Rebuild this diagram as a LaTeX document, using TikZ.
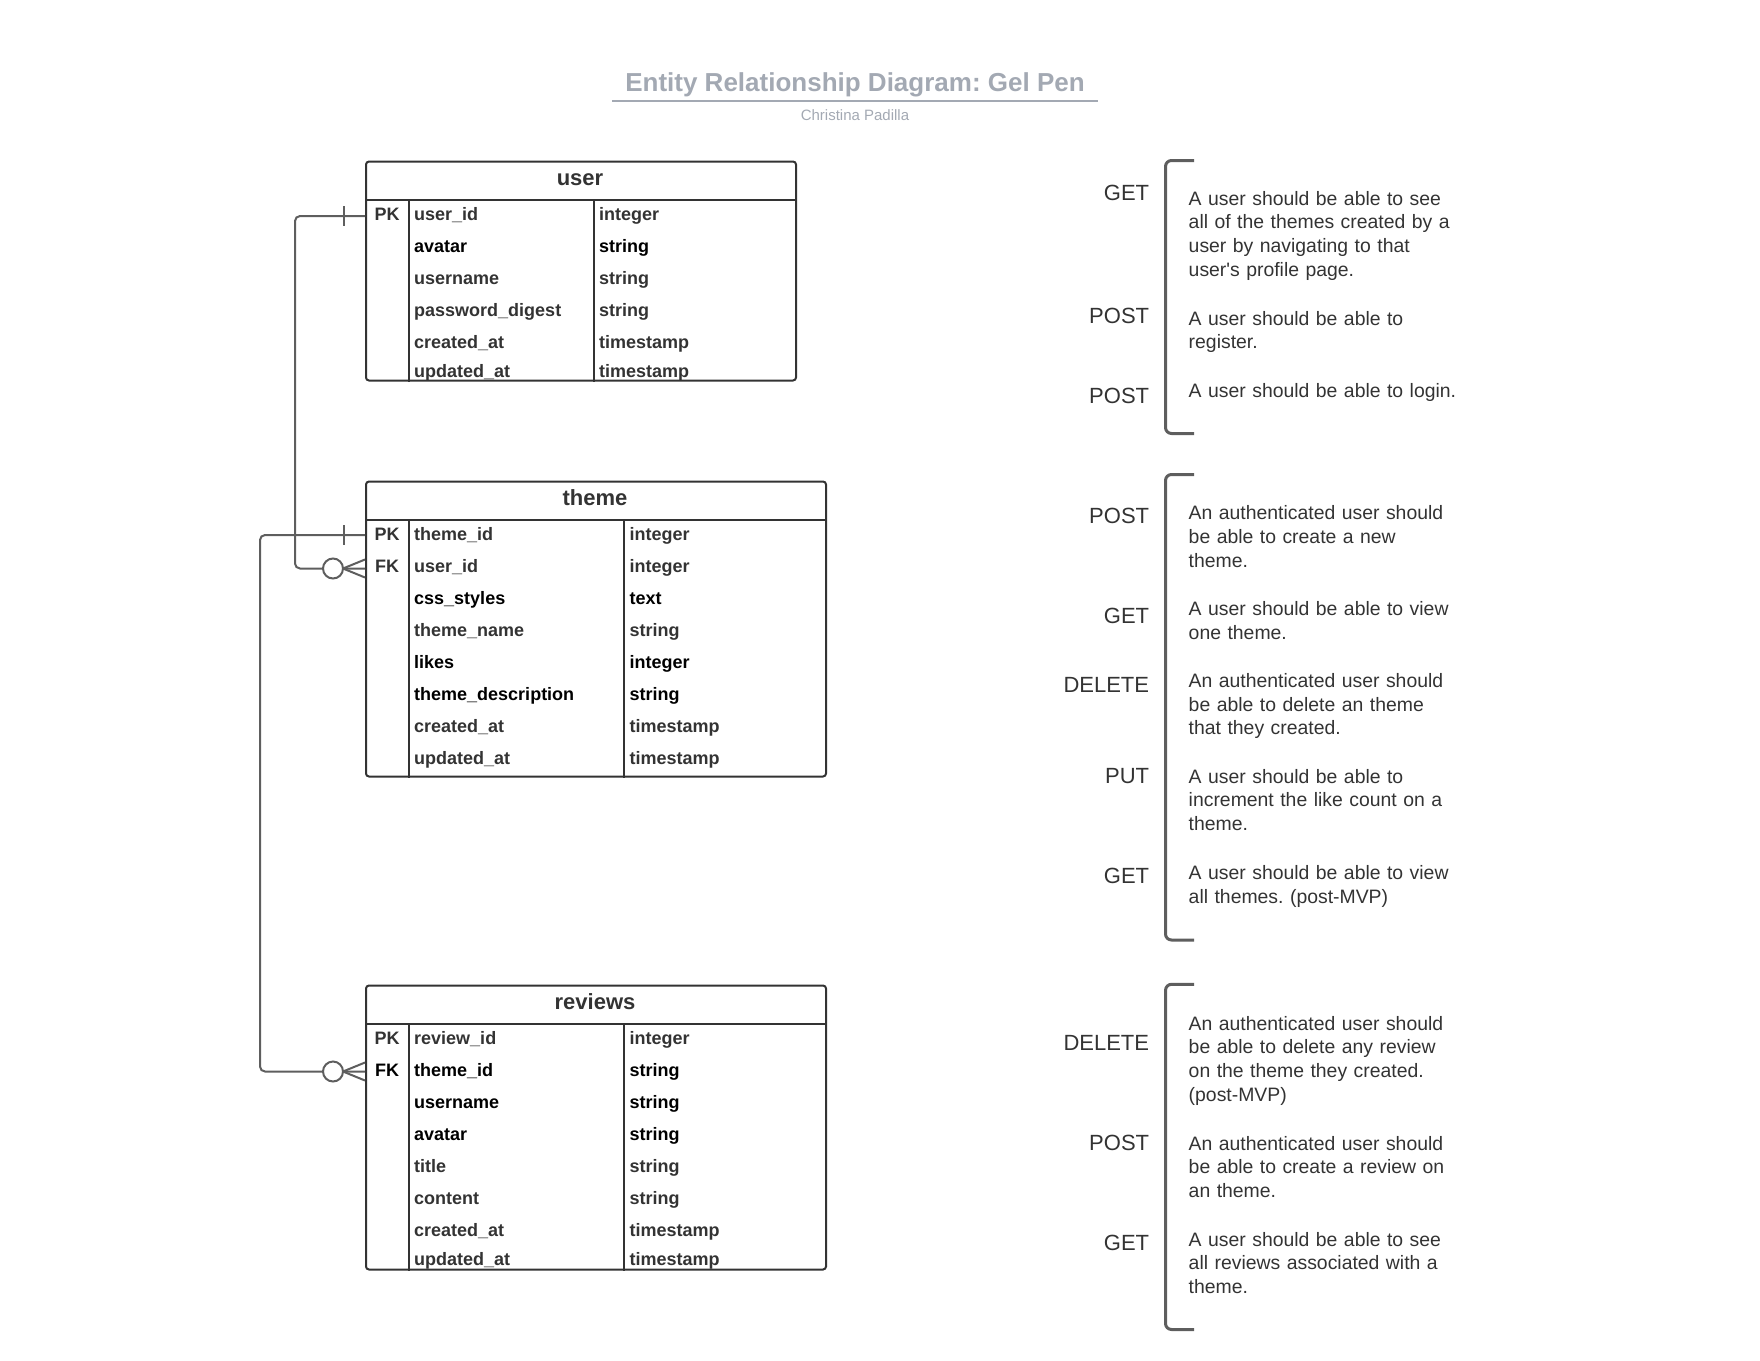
\documentclass[tikz,border=0pt]{standalone}
\usepackage{fontspec}
\setmainfont{Liberation Sans}
\frenchspacing
\definecolor{inkdark}{HTML}{333333}
\definecolor{linkgray}{HTML}{5E5E5E}
\definecolor{titlegray}{HTML}{A3A9B3}
\tikzset{
  ttl/.style={anchor=base, inner sep=0pt, font=\bfseries\fontsize{26}{30}\selectfont, text=titlegray},
  sub/.style={anchor=base, inner sep=0pt, font=\fontsize{15}{18}\selectfont, text=titlegray},
  tbl/.style={draw=inkdark, line width=2pt, rounded corners=3pt, anchor=north west, inner sep=0pt},
  tblline/.style={draw=inkdark, line width=2pt},
  hdr/.style={anchor=base, inner sep=0pt, font=\bfseries\fontsize{22}{24}\selectfont, text=inkdark},
  fld/.style={anchor=base west, inner sep=0pt, font=\bfseries\fontsize{18}{20}\selectfont, text=inkdark},
  fldb/.style={fld, text=black},
  key/.style={fld, anchor=base},
  keyb/.style={key, text=black},
  verb/.style={anchor=base east, inner sep=0pt, font=\fontsize{22}{24}\selectfont, text=inkdark},
  note/.style={anchor=base west, inner sep=0pt, align=left, text width=320pt, font=\fontsize{19.4}{23.8}\selectfont, text=inkdark},
  rel/.style={draw=linkgray, line width=2pt, rounded corners=5pt},
  brk/.style={draw=linkgray, line width=3pt, rounded corners=6pt},
  onebar/.pic={\draw[rel] (-21,-10) -- (-21,10);},
  zeromany/.pic={\draw[rel] (-22,0) -- (0,-9) (-22,0) -- (0,9); \draw[rel, fill=white] (-32,0) circle[radius=10pt];},
}

\begin{document}
\begin{tikzpicture}[x=1pt, y=-1pt]
  \useasboundingbox (0,0) rectangle (1760,1360);

  % title
  \node[ttl] (title) at (855,91) {Entity Relationship Diagram: Gel Pen};
  \draw[titlegray, line width=2pt] (612,100.5) -- (1098,100.5);
  \node[sub] (author) at (855,120.5) {Christina Padilla};

  % user table
  \node[tbl, minimum width=430pt, minimum height=219pt] (user) at (365,160.5) {};
  \draw[tblline] ([yshift=-39.5pt]user.north west) -- ([yshift=-39.5pt]user.north east);
  \draw[tblline] ([xshift=43.5pt,yshift=-39.5pt]user.north west) -- ([xshift=43.5pt]user.south west);
  \draw[tblline] ([xshift=229pt,yshift=-39.5pt]user.north west) -- ([xshift=229pt]user.south west);
  \node[hdr] (userhd) at (580,185.7) {user};
  \node[key] (upk) at (387,220) {PK};
  \node[fld] (u1) at (414,220) {user\_id};          \node[fld] (u1t) at (599,220) {integer};
  \node[fldb] (u2) at (414,252) {avatar};           \node[fldb] (u2t) at (599,252) {string};
  \node[fld] (u3) at (414,284) {username};          \node[fld] (u3t) at (599,284) {string};
  \node[fld] (u4) at (414,316) {password\_digest};  \node[fld] (u4t) at (599,316) {string};
  \node[fld] (u5) at (414,348) {created\_at};       \node[fld] (u5t) at (599,348) {timestamp};
  \node[fld] (u6) at (414,377) {updated\_at};       \node[fld] (u6t) at (599,377) {timestamp};

  % theme table
  \node[tbl, minimum width=460pt, minimum height=295pt] (theme) at (365,480.5) {};
  \draw[tblline] ([yshift=-39.5pt]theme.north west) -- ([yshift=-39.5pt]theme.north east);
  \draw[tblline] ([xshift=43.5pt,yshift=-39.5pt]theme.north west) -- ([xshift=43.5pt]theme.south west);
  \draw[tblline] ([xshift=259pt,yshift=-39.5pt]theme.north west) -- ([xshift=259pt]theme.south west);
  \node[hdr] (themehd) at (595,505.7) {theme};
  \node[key] (tpkl) at (387,540.5) {PK};
  \node[key] (tfkl) at (387,572.5) {FK};
  \node[fld] (t1) at (414,540.5) {theme\_id};           \node[fld] (t1t) at (629.5,540.5) {integer};
  \node[fld] (t2) at (414,572.5) {user\_id};            \node[fld] (t2t) at (629.5,572.5) {integer};
  \node[fldb] (t3) at (414,604.5) {css\_styles};        \node[fldb] (t3t) at (629.5,604.5) {text};
  \node[fld] (t4) at (414,636.5) {theme\_name};         \node[fld] (t4t) at (629.5,636.5) {string};
  \node[fldb] (t5) at (414,668.5) {likes};              \node[fldb] (t5t) at (629.5,668.5) {integer};
  \node[fldb] (t6) at (414,700.5) {theme\_description}; \node[fldb] (t6t) at (629.5,700.5) {string};
  \node[fld] (t7) at (414,732.5) {created\_at};         \node[fld] (t7t) at (629.5,732.5) {timestamp};
  \node[fld] (t8) at (414,764.5) {updated\_at};         \node[fld] (t8t) at (629.5,764.5) {timestamp};

  % reviews table
  \node[tbl, minimum width=460pt, minimum height=284pt] (reviews) at (365,984.5) {};
  \draw[tblline] ([yshift=-39.5pt]reviews.north west) -- ([yshift=-39.5pt]reviews.north east);
  \draw[tblline] ([xshift=43.5pt,yshift=-39.5pt]reviews.north west) -- ([xshift=43.5pt]reviews.south west);
  \draw[tblline] ([xshift=259pt,yshift=-39.5pt]reviews.north west) -- ([xshift=259pt]reviews.south west);
  \node[hdr] (reviewshd) at (595,1009.7) {reviews};
  \node[key] (rpkl) at (387,1044.5) {PK};
  \node[keyb] (rfkl) at (387,1076.5) {FK};
  \node[fld] (r1) at (414,1044.5) {review\_id};   \node[fld] (r1t) at (629.5,1044.5) {integer};
  \node[fldb] (r2) at (414,1076.5) {theme\_id};   \node[fldb] (r2t) at (629.5,1076.5) {string};
  \node[fldb] (r3) at (414,1108.5) {username};    \node[fldb] (r3t) at (629.5,1108.5) {string};
  \node[fldb] (r4) at (414,1140.5) {avatar};      \node[fldb] (r4t) at (629.5,1140.5) {string};
  \node[fld] (r5) at (414,1172.5) {title};        \node[fld] (r5t) at (629.5,1172.5) {string};
  \node[fld] (r6) at (414,1204.5) {content};      \node[fld] (r6t) at (629.5,1204.5) {string};
  \node[fld] (r7) at (414,1236.5) {created\_at};  \node[fld] (r7t) at (629.5,1236.5) {timestamp};
  \node[fld] (r8) at (414,1265) {updated\_at};    \node[fld] (r8t) at (629.5,1265) {timestamp};

  % relations
  \coordinate (userpk) at (365,216);
  \coordinate (themepk) at (365,535);
  \coordinate (themefk) at (365,568.5);
  \coordinate (reviewsfk) at (365,1071.5);
  \draw[rel] (themepk) -- ++(-105,0) |- (reviewsfk);
  \draw[rel] (userpk) -- ++(-70,0) |- (themefk);
  \pic at (userpk) {onebar};
  \pic at (themepk) {onebar};
  \pic at (themefk) {zeromany};
  \pic at (reviewsfk) {zeromany};

  % user routes
  \draw[brk] (1194,160.5) -- (1165.5,160.5) -- (1165.5,433.5) -- (1194,433.5);
  \node[verb] (v1) at (1149.3,200) {GET};
  \node[verb] (v2) at (1149.3,323.3) {POST};
  \node[verb] (v3) at (1149.3,403.3) {POST};
  \node[note] (n1) at (1188.5,205) {A user should be able to see\\all of the themes created by a\\user by navigating to that\\user\textquotesingle s profile page.};
  \node[note] (n2) at (1188.5,325) {A user should be able to\\register.};
  \node[note] (n3) at (1188.5,397.3) {A user should be able to login.};

  % theme routes
  \draw[brk] (1194,474.5) -- (1165.5,474.5) -- (1165.5,940) -- (1194,940);
  \node[verb] (v4) at (1149.3,523.3) {POST};
  \node[verb] (v5) at (1149.3,623.3) {GET};
  \node[verb] (v6) at (1149.3,692) {DELETE};
  \node[verb] (v7) at (1149.3,783.3) {PUT};
  \node[verb] (v8) at (1149.3,883.3) {GET};
  \node[note] (n4) at (1188.5,519.5) {An authenticated user should\\be able to create a new\\theme.};
  \node[note] (n5) at (1188.5,615.5) {A user should be able to view\\one theme.};
  \node[note] (n6) at (1188.5,687.3) {An authenticated user should\\be able to delete an theme\\that they created.};
  \node[note] (n7) at (1188.5,783) {A user should be able to\\increment the like count on a\\theme.};
  \node[note] (n8) at (1188.5,879.3) {A user should be able to view\\all themes. (post-MVP)};

  % reviews routes
  \draw[brk] (1194,984.3) -- (1165.5,984.3) -- (1165.5,1329.5) -- (1194,1329.5);
  \node[verb] (v9) at (1149.3,1050.3) {DELETE};
  \node[verb] (v10) at (1149.3,1150.3) {POST};
  \node[verb] (v11) at (1149.3,1250.3) {GET};
  \node[note] (n9) at (1188.5,1030) {An authenticated user should\\be able to delete any review\\on the theme they created.\\(post-MVP)};
  \node[note] (n10) at (1188.5,1150) {An authenticated user should\\be able to create a review on\\an theme.};
  \node[note] (n11) at (1188.5,1246) {A user should be able to see\\all reviews associated with a\\theme.};
\end{tikzpicture}
\end{document}
